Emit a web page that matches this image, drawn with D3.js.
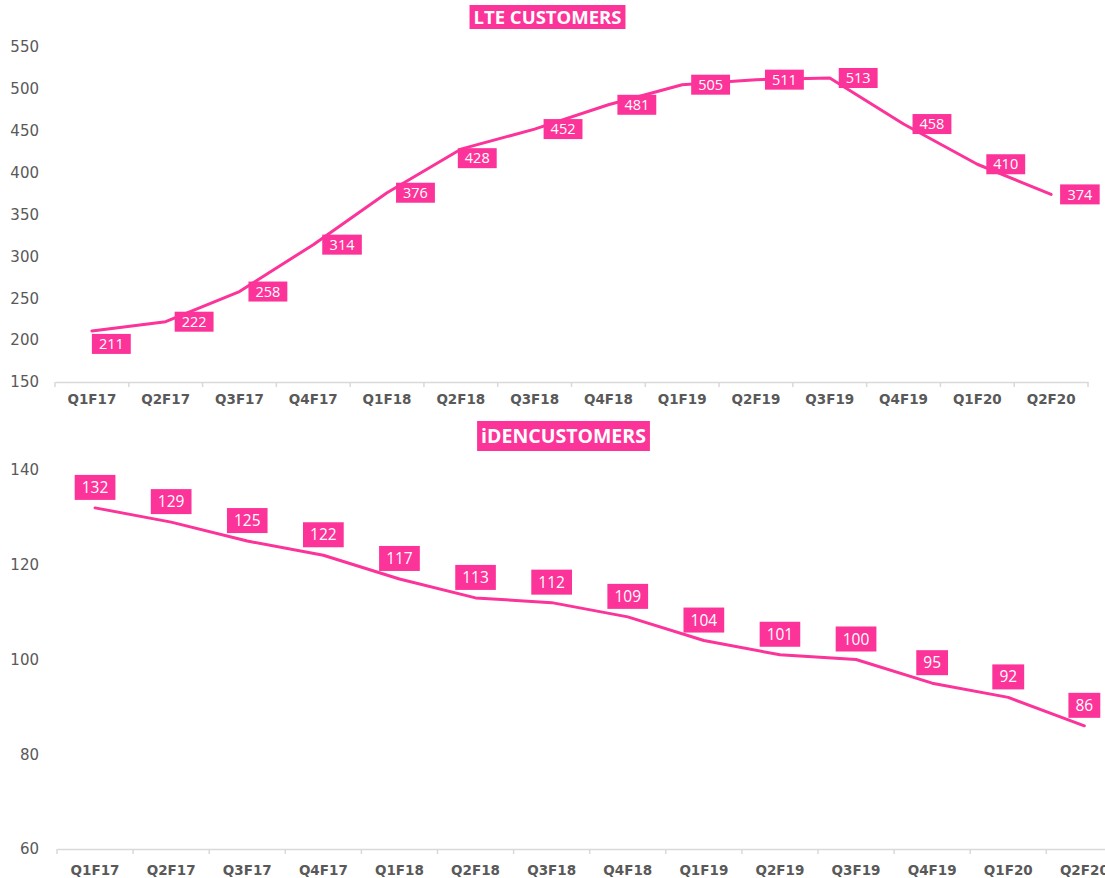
<!DOCTYPE html>
<html><head><meta charset="utf-8">
<script src="https://cdn.jsdelivr.net/npm/d3@7"></script>
<style>
html,body{margin:0;padding:0;background:#fff;}
svg{display:block;}
</style></head>
<body>
<svg id="chart" width="1105" height="878"></svg>
<script>
const categories = ["Q1F17","Q2F17","Q3F17","Q4F17","Q1F18","Q2F18","Q3F18","Q4F18","Q1F19","Q2F19","Q3F19","Q4F19","Q1F20","Q2F20"];
const lteValues = [211,222,258,314,376,428,452,481,505,511,513,458,410,374];
const idenValues = [132,129,125,122,117,113,112,109,104,101,100,95,92,86];
const lteTicks = [150,200,250,300,350,400,450,500,550];
const idenTicks = [60,80,100,120,140];
const lteTitle = "LTE CUSTOMERS";
const idenTitle = "iDENCUSTOMERS";

const PINK = "#fc3399";
const GRAY = "#595959";
const AXIS = "#d9d9d9";
const svg = d3.select("#chart");

function boxedText(parent, txt, font) {
  const lg = parent.append("g");
  const rect = lg.append("rect").attr("fill", PINK);
  const t = lg.append("text").text(txt)
    .style("font-family", font.family).style("font-size", font.size + "px")
    .style("font-weight", font.weight || "normal")
    .style("fill", "#fff").attr("text-anchor", "middle");
  const bb = t.node().getBBox();
  return {lg, rect, t, w: bb.width};
}

function drawPanel(opt) {
  const g = svg.append("g");
  const x = d3.scaleBand().domain(categories).range([opt.x0, opt.x1]).padding(0);
  const y = d3.scaleLinear().domain(opt.domain).range([opt.yBottom, opt.yTop]);

  g.selectAll(".yt").data(opt.ticks).enter().append("text")
    .attr("x", 39).attr("y", d => y(d)).attr("dy", "0.35em")
    .attr("text-anchor", "end")
    .style("font-family", "DejaVu Sans").style("font-size", opt.ytSize + "px")
    .style("fill", GRAY).text(d => d);

  const xAxis = d3.axisBottom(x).tickSize(0).tickFormat("");
  const ax = g.append("g").attr("transform", `translate(0,${opt.yBottom})`).call(xAxis);
  ax.select(".domain").attr("stroke", AXIS).attr("stroke-width", 1.5);
  const bounds = categories.map(c => x(c)).concat([x(categories[categories.length-1]) + x.bandwidth()]);
  g.selectAll(".bt").data(bounds).enter().append("line")
    .attr("x1", d => d).attr("x2", d => d)
    .attr("y1", opt.yBottom).attr("y2", opt.yBottom + 5)
    .attr("stroke", AXIS).attr("stroke-width", 1.5);
  g.selectAll(".xl").data(categories).enter().append("text")
    .attr("x", d => x(d) + x.bandwidth()/2).attr("y", opt.xLabelY).attr("dy", "0.35em")
    .attr("text-anchor", "middle")
    .style("font-family", "DejaVu Sans").style("font-weight", "bold")
    .style("font-size", opt.xlSize + "px").style("fill", GRAY).text(d => d);

  const cx = i => x(categories[i]) + x.bandwidth()/2;
  const line = d3.line().x((d,i) => cx(i)).y(d => y(d));
  g.append("path").datum(opt.values).attr("d", line)
    .attr("fill", "none").attr("stroke", PINK).attr("stroke-width", 3)
    .attr("stroke-linejoin", "round").attr("stroke-linecap", "round");

  opt.values.forEach((v, i) => {
    const px = cx(i), py = y(v);
    const b = boxedText(g, v, {family: "Open Sans", size: opt.lblSize});
    const w = b.w + opt.padX*2, h = opt.lblH;
    const pos = opt.place(i, px, py, w, h);
    b.rect.attr("x", pos.left).attr("y", pos.top).attr("width", w).attr("height", h);
    b.t.attr("x", pos.left + w/2).attr("y", pos.top + h/2).attr("dy", "0.36em");
  });

  const tb = boxedText(g, opt.title, {family: "Open Sans", size: opt.titleSize, weight: "bold"});
  const tw = tb.w + 8;
  tb.rect.attr("x", opt.titleCx - tw/2).attr("y", opt.titleTop).attr("width", tw).attr("height", opt.titleH);
  tb.t.attr("x", opt.titleCx).attr("y", opt.titleTop + opt.titleH/2).attr("dy", "0.36em");
}

const lteNudge = {0: {dx: 0, top: 3}, 5: {dx: -3, top: -1}};
drawPanel({
  x0: 55, x1: 1088, yBottom: 382, yTop: 47, domain: [150, 550],
  ticks: lteTicks, values: lteValues, ytSize: 15, xlSize: 13.5, xLabelY: 399,
  lblSize: 14.5, padX: 7, lblH: 20,
  place: (i, px, py, w, h) => {
    const n = lteNudge[i];
    if (n) return {left: px + n.dx, top: py + n.top};
    return {left: px + 9, top: py - h/2};
  },
  title: lteTitle, titleSize: 18.5, titleCx: 547.5, titleTop: 5, titleH: 24
});

drawPanel({
  x0: 57, x1: 57 + 76.1*14, yBottom: 849, yTop: 470, domain: [60, 140],
  ticks: idenTicks, values: idenValues, ytSize: 15, xlSize: 13.5, xLabelY: 870,
  lblSize: 15.5, padX: 7, lblH: 25,
  place: (i, px, py, w, h) => ({left: px - w/2, top: py - 8 - h}),
  title: idenTitle, titleSize: 19.5, titleCx: 563.5, titleTop: 421, titleH: 30
});
</script>
</body></html>
